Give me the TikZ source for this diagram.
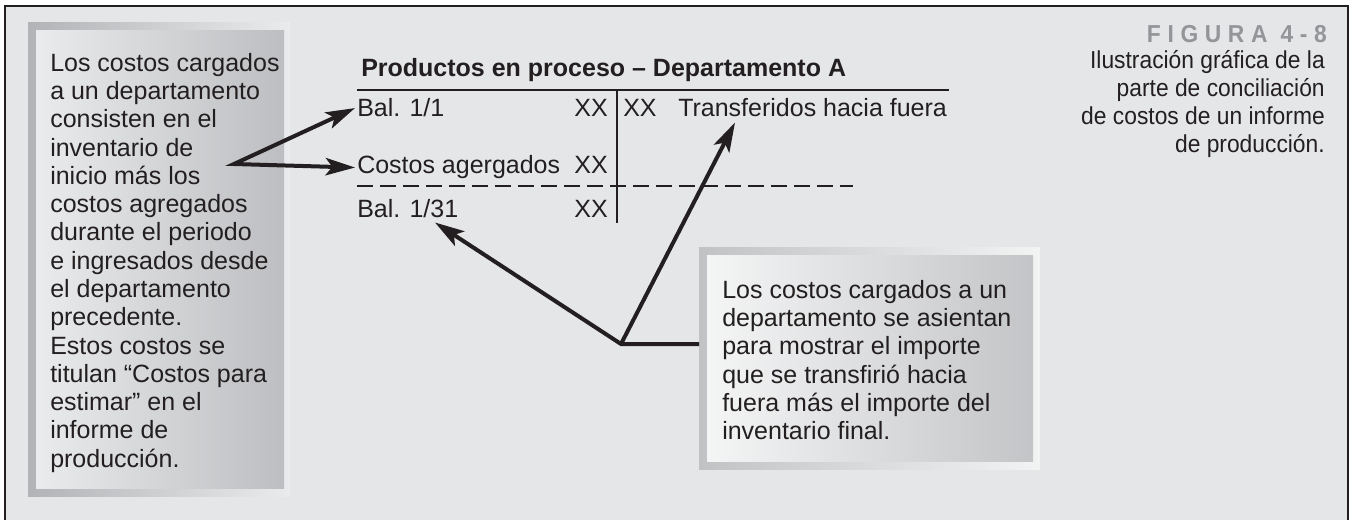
\documentclass[tikz,border=0pt]{standalone}
\usepackage{fontspec}
\setmainfont{Liberation Sans}
\newfontfamily\capfont[FakeStretch=0.93]{Liberation Sans}
\usetikzlibrary{arrows.meta}

\definecolor{ink}{HTML}{231F20}
\definecolor{panel}{HTML}{E5E6E8}
\definecolor{figgray}{HTML}{939598}
\definecolor{bandDark}{HTML}{B2B3B6}
\definecolor{bandLight}{HTML}{EAEBEC}
\definecolor{noteLight}{HTML}{EAEBEC}
\definecolor{noteDark}{HTML}{BDBEC1}

\tikzset{
  >={Stealth[length=22pt,width=13pt,inset=5pt]},
  pointer/.style={ink, line width=3pt, ->},
  rule/.style={ink, line width=2pt},
  body/.style={ink, inner sep=0pt, align=left, font=\fontsize{18.75}{21.2}\selectfont},
  tbl/.style={ink, inner sep=1.5pt, font=\fontsize{18.75}{21.2}\selectfont},
  ttl/.style={ink, inner sep=0pt, font=\fontsize{18.75}{21.2}\selectfont\bfseries},
}

\begin{document}
\begin{tikzpicture}[x=0.75pt,y=0.75pt,yscale=-1,xscale=1]
\useasboundingbox (0,0) rectangle (1353,520);

%Shape: Rectangle [id:dp_panel]
\fill[panel] (5,6) rectangle (1348,520);
\draw[ink, line width=2.2pt] (5,520) -- (5,6) -- (1348,6) -- (1348,520);

%Shape: Rectangle [id:dp_lnote]
\shade[left color=bandDark, right color=bandLight] (28,23) rectangle (290,496);
\shade[left color=noteLight, right color=noteDark] (36,31) rectangle (284,488);
%Shape: Rectangle [id:dp_rnote]
\shade[left color=bandDark!80!white, right color=bandLight!60!white] (699,248) rectangle (1040,469);
\shade[left color=noteLight!50!white, right color=noteDark!90!white] (707,256) rectangle (1033,461);

% Text Node
\node[body, anchor=north west] (lnote) at (50,53) {Los costos cargados\\a un departamento\\consisten en el\\inventario de\\inicio más los\\costos agregados\\durante el periodo\\e ingresados desde\\el departamento\\precedente.\\Estos costos se\\titulan “Costos para\\estimar” en el\\informe de\\producción.};
% Text Node
\node[body, anchor=north west] (rnote) at (722,280) {Los costos cargados a un\\departamento se asientan\\para mostrar el importe\\que se transfirió hacia\\fuera más el importe del\\inventario final.};

% Text Node
\node[ttl, anchor=base west] (title) at (361,77) {Productos en proceso – Departamento A};
\node[tbl, anchor=base west] (bal1) at (355,117) {Bal. 1/1};
\node[tbl, anchor=base east] (xx1) at (610,117) {XX};
\node[tbl, anchor=base west] (xx2) at (621,117) {XX};
\node[tbl, anchor=base west] (transf) at (676,117) {Transferidos hacia fuera};
\node[tbl, anchor=base west] (added) at (355,174) {Costos agergados};
\node[tbl, anchor=base east] (xx3) at (610,174) {XX};
\node[tbl, anchor=base west] (bal31) at (355,218) {Bal. 1/31};
\node[tbl, anchor=base east] (xx4) at (610,218) {XX};

%Straight Lines [id:da_rules]
\draw[rule] (357,90) -- (949,90);
\draw[rule] (617,90) -- (617,223);
\draw[rule, dash pattern=on 12pt off 5.25pt] (357,186) -- (853,186);

% Text Node
\node[anchor=base east, inner sep=0pt, text=figgray, font=\capfont\fontsize{18.4}{21}\selectfont\bfseries\addfontfeature{LetterSpace=27}] (fig) at (1327,43) {FIGURA 4-8};
\node[anchor=north east, inner sep=0pt, ink, align=right, font=\capfont\fontsize{18.4}{21}\selectfont] (caption) at (1325,50) {Ilustración gráfica de la\\parte de conciliación\\de costos de un informe\\de producción.};

%Straight Lines [id:da_arrows]
\coordinate (lfork) at (234,164);
\coordinate (rfork) at (621,344);
\coordinate (rtip) at (699,344);
\draw[pointer, <->] (bal1.west) -- (lfork) -- (added.west);
\draw[pointer] (rtip) -- (rfork) -- ([shift={(80,2)}]bal31.south west);
\draw[pointer] (rfork) -- ([shift={(59,3)}]transf.south west);

\end{tikzpicture}
\end{document}
